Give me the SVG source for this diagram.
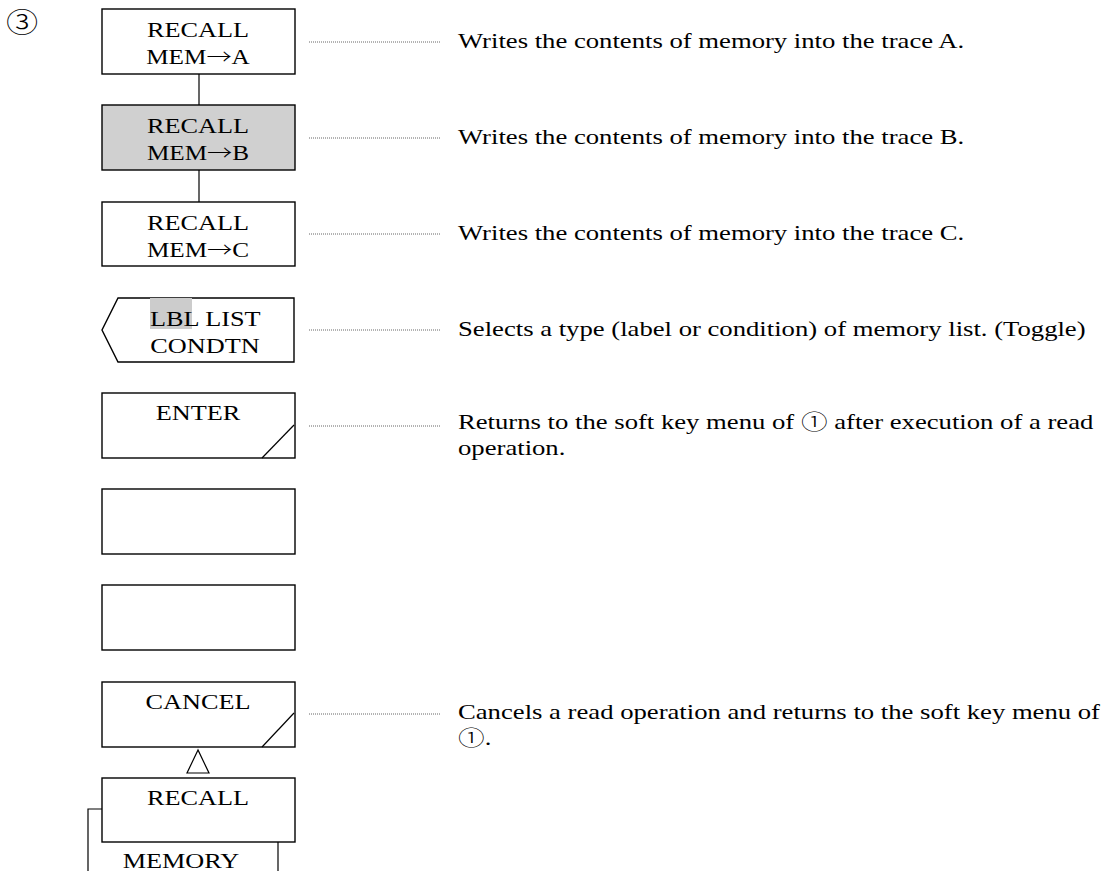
<svg xmlns="http://www.w3.org/2000/svg" width="1107" height="871" viewBox="0 0 1107 871">
<style>
.box{fill:#fff;stroke:#000;stroke-width:1.4}
.gray{fill:#d0d0d0}
.ln{stroke:#000;stroke-width:1.2;fill:none}
.dot{stroke:#666;stroke-width:1;stroke-dasharray:1 1;fill:none}
.t{font-family:"Liberation Serif","Times New Roman",serif;font-size:21px;fill:#000}
.c{text-anchor:middle}
.cj{font-family:"Noto Sans CJK JP","Liberation Serif",sans-serif;font-weight:300}
.circ{font-size:28px}
</style>
<rect width="1107" height="871" fill="#fff"/>
<text class="t cj circ" transform="translate(6,33) scale(1.15,1)">③</text>
<g id="connectors">
<line class="ln" x1="199" y1="74" x2="199" y2="105"/>
<line class="ln" x1="199" y1="170" x2="199" y2="202"/>
<line class="dot" x1="309" y1="42" x2="440" y2="42"/>
<line class="dot" x1="309" y1="138" x2="440" y2="138"/>
<line class="dot" x1="309" y1="234" x2="440" y2="234"/>
<line class="dot" x1="309" y1="330" x2="440" y2="330"/>
<line class="dot" x1="309" y1="426" x2="440" y2="426"/>
<line class="dot" x1="309" y1="714" x2="440" y2="714"/>
<polygon class="ln" points="198,750 187,773 209,773"/>
<polyline class="ln" points="102,809 88,809 88,871"/>
<line class="ln" x1="278" y1="842" x2="278" y2="871"/>
</g>
<g id="n1">
<rect class="box" x="102" y="9" width="193" height="65"/>
<text class="t c" transform="translate(198,37) scale(1.25,1)">RECALL</text>
<text class="t c" transform="translate(198,64) scale(1.2,1)">MEM<tspan class="cj">→</tspan>A</text>
</g>
<g id="n2">
<rect class="box gray" x="102" y="105" width="193" height="65"/>
<text class="t c" transform="translate(198,133) scale(1.25,1)">RECALL</text>
<text class="t c" transform="translate(198,160) scale(1.2,1)">MEM<tspan class="cj">→</tspan>B</text>
</g>
<g id="n3">
<rect class="box" x="102" y="202" width="193" height="64"/>
<text class="t c" transform="translate(198,230) scale(1.25,1)">RECALL</text>
<text class="t c" transform="translate(198,257) scale(1.2,1)">MEM<tspan class="cj">→</tspan>C</text>
</g>
<g id="n4">
<polygon class="box" points="118,298 294,298 294,362 118,362 102,330"/>
<rect x="150" y="298" width="42" height="31" fill="#cccccc"/>
<text class="t" transform="translate(150,326) scale(1.25,1)">LBL LIST</text>
<text class="t c" transform="translate(205,353) scale(1.25,1)">CONDTN</text>
</g>
<g id="n5">
<rect class="box" x="102" y="393" width="193" height="65"/>
<line class="ln" x1="262" y1="458" x2="294" y2="425"/>
<text class="t c" transform="translate(198,420) scale(1.25,1)">ENTER</text>
</g>
<g id="n6">
<rect class="box" x="102" y="489" width="193" height="65"/>
</g>
<g id="n7">
<rect class="box" x="102" y="585" width="193" height="65"/>
</g>
<g id="n8">
<rect class="box" x="102" y="682" width="193" height="65"/>
<line class="ln" x1="262" y1="747" x2="294" y2="713"/>
<text class="t c" transform="translate(198,709) scale(1.25,1)">CANCEL</text>
</g>
<g id="n9">
<rect class="box" x="102" y="778" width="193" height="64"/>
<text class="t c" transform="translate(198,805) scale(1.25,1)">RECALL</text>
<text class="t c" transform="translate(181,868) scale(1.25,1)">MEMORY</text>
</g>
<g id="descriptions">
<text class="t" transform="translate(458,48) scale(1.27,1)">Writes the contents of memory into the trace A.</text>
<text class="t" transform="translate(458,144) scale(1.27,1)">Writes the contents of memory into the trace B.</text>
<text class="t" transform="translate(458,240) scale(1.27,1)">Writes the contents of memory into the trace C.</text>
<text class="t" transform="translate(458,336) scale(1.27,1)">Selects a type (label or condition) of memory list. (Toggle)</text>
<text class="t" transform="translate(458,429) scale(1.27,1)">Returns to the soft key menu of  <tspan class="cj">①</tspan>  after execution of a read</text>
<text class="t" transform="translate(458,455) scale(1.27,1)">operation.</text>
<text class="t" transform="translate(458,719) scale(1.27,1)">Cancels a read operation and returns to the soft key menu of</text>
<text class="t" transform="translate(458,745) scale(1.27,1)"><tspan class="cj">①</tspan>.</text>
</g>
</svg>
